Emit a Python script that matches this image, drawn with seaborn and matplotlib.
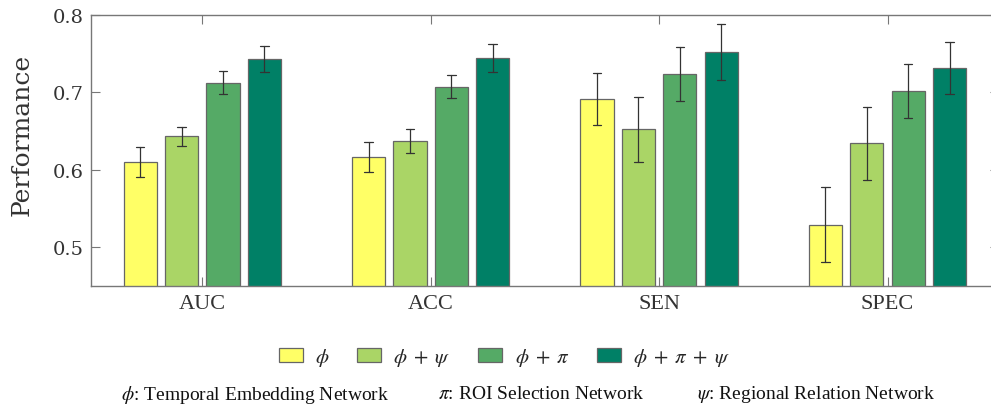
import matplotlib
matplotlib.use("Agg")
import matplotlib.pyplot as plt
import numpy as np
import pandas as pd
import seaborn as sns

# Metrics and model variants
metrics = ["AUC", "ACC", "SEN", "SPEC"]
variants = [r"$\phi$", r"$\phi\;+\;\psi$", r"$\phi\;+\;\pi$", r"$\phi\;+\;\pi\;+\;\psi$"]

# Mean performance per metric (rows) and variant (columns)
auc_mean = [0.610, 0.643, 0.712, 0.743]
acc_mean = [0.616, 0.637, 0.707, 0.744]
sen_mean = [0.691, 0.652, 0.723, 0.752]
spec_mean = [0.529, 0.634, 0.701, 0.731]

# Half-width of the error bars
auc_err = [0.019, 0.012, 0.015, 0.017]
acc_err = [0.019, 0.016, 0.015, 0.018]
sen_err = [0.034, 0.042, 0.035, 0.036]
spec_err = [0.048, 0.047, 0.035, 0.034]

colors = ["#FFFF66", "#AAD566", "#55AA66", "#008066"]

means = [auc_mean, acc_mean, sen_mean, spec_mean]
errs = [auc_err, acc_err, sen_err, spec_err]

# Long-form table: two samples per bar (mean -/+ error) so the mean is the
# bar height and the min/max interval is the error bar.
rows = []
for m, mv, ev in zip(metrics, means, errs):
    for v, mu, e in zip(variants, mv, ev):
        rows.append({"metric": m, "variant": v, "value": mu - e})
        rows.append({"metric": m, "variant": v, "value": mu + e})
df = pd.DataFrame(rows)

sns.set_theme(style="white")
plt.rcParams["mathtext.fontset"] = "stix"

fig = plt.figure(figsize=(9.91, 4.10), dpi=100)
ax = fig.add_axes([0.0915, 0.3007, 0.917, 0.661])

sns.barplot(
    data=df, x="metric", y="value", hue="variant",
    order=metrics, hue_order=variants, palette=colors,
    estimator="mean", errorbar=lambda x: (x.min(), x.max()),
    width=0.725, gap=0.2, capsize=0.15,
    err_kws={"color": "#333333", "linewidth": 0.9},
    edgecolor="#666666", linewidth=0.9, saturation=1,
    ax=ax, legend=True,
)

ax.set_ylim(0.45, 0.8)
ax.set_xlim(-0.4885, 3.49)
ax.set_yticks([0.5, 0.6, 0.7, 0.8])
ax.set_yticklabels(["0.5", "0.6", "0.7", "0.8"], family="DejaVu Serif",
                   fontsize=14, color="#333333")
ax.set_xticks(range(len(metrics)))
ax.set_xticklabels(metrics, family="Liberation Serif", fontsize=16,
                   color="#333333")
ax.set_xlabel("")
ax.set_ylabel("Performance", family="DejaVu Serif", fontsize=18,
              color="#333333")
ax.yaxis.set_label_coords(-0.063, 0.56)

for s in ax.spines.values():
    s.set_visible(True)
    s.set_color("#777777")
    s.set_linewidth(1.0)
ax.tick_params(axis="both", which="both", direction="in", length=6.5,
               width=0.8, color="#777777", top=True, right=True,
               bottom=True, left=True)
ax.tick_params(axis="x", pad=6)
ax.tick_params(axis="y", pad=5)

handles, labels = ax.get_legend_handles_labels()
ax.get_legend().remove()
fig.legend(
    handles, labels, loc="center", bbox_to_anchor=(0.509, 0.127),
    ncol=4, frameon=False, fontsize=15, handlelength=1.15,
    handleheight=0.65, handletextpad=0.6, columnspacing=1.3,
)

note_kw = dict(family="Liberation Serif", fontsize=14, color="#111111",
               va="center", ha="left")
fig.text(120.7 / 991, 1 - 395 / 410, r"$\phi$: Temporal Embedding Network", **note_kw)
fig.text(438 / 991, 1 - 395 / 410, r"$\pi$: ROI Selection Network", **note_kw)
fig.text(697 / 991, 1 - 395 / 410, r"$\psi$: Regional Relation Network", **note_kw)

fig.savefig("out.png", dpi=100)
